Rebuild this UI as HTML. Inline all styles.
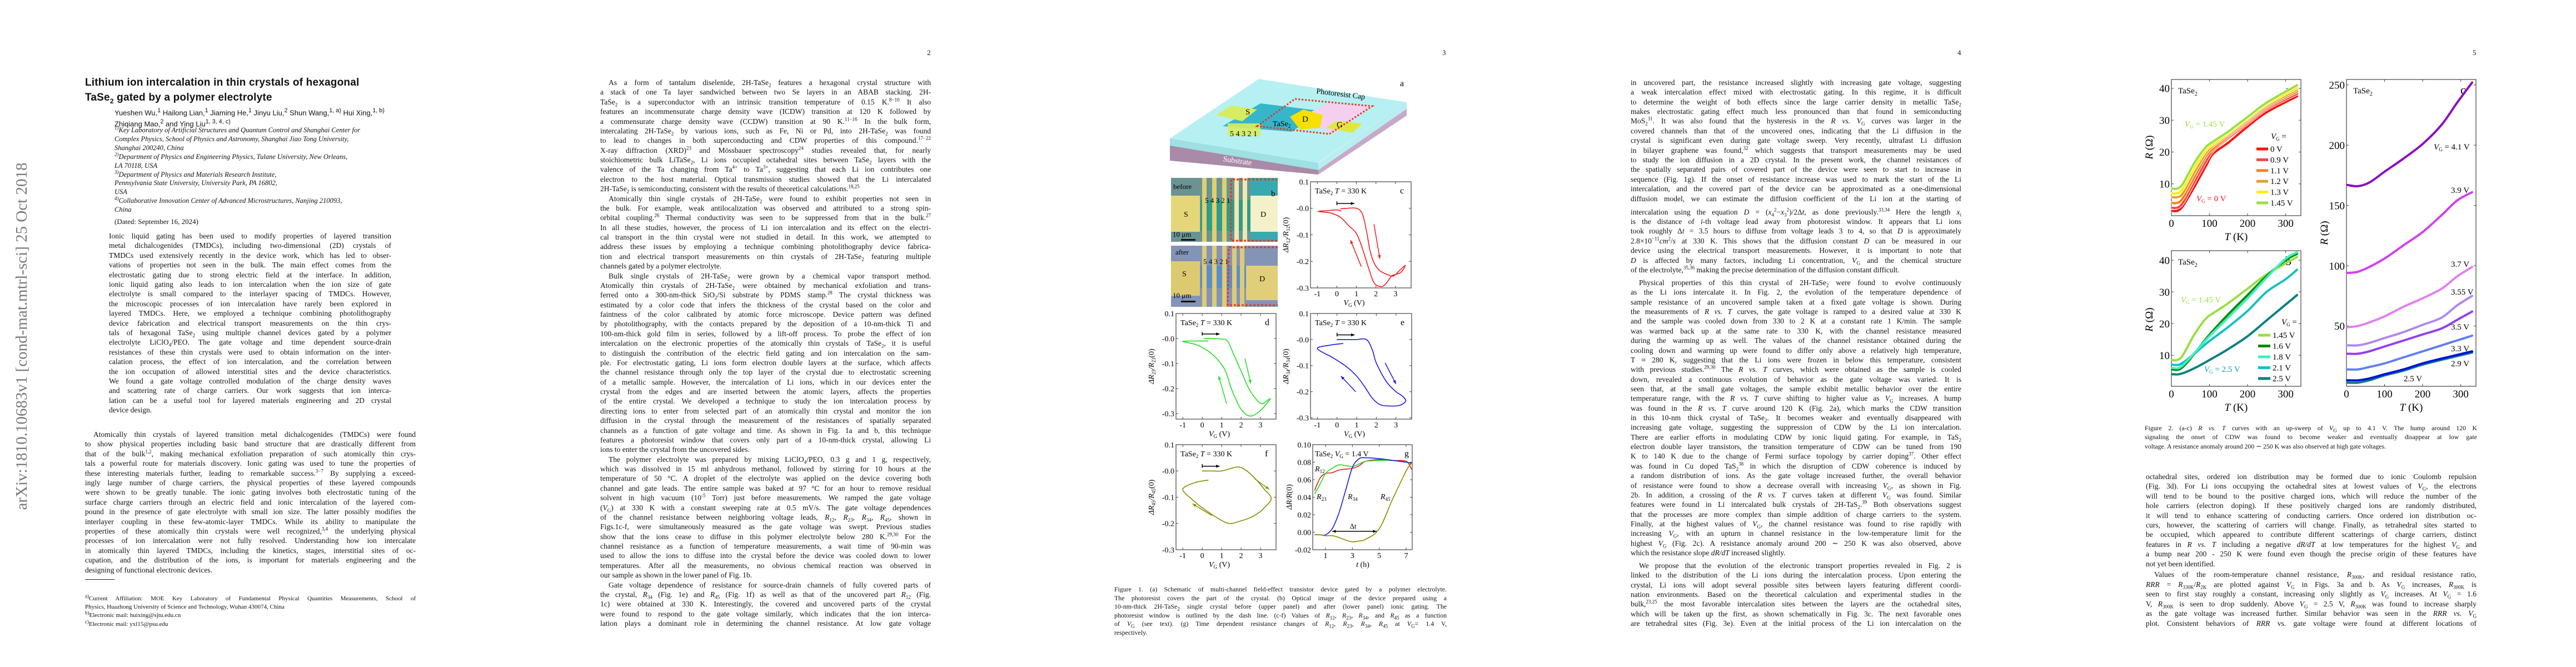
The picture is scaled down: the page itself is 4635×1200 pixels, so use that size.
<!DOCTYPE html>
<html><head><meta charset="utf-8">
<style>
html,body{margin:0;padding:0;background:#fff;}
body{width:4635px;height:1200px;position:relative;overflow:hidden;font-family:"Liberation Serif",serif;color:#111;}
.pg{position:absolute;top:0;width:927px;height:1200px;background:#fff;}
.ln{position:absolute;height:18px;line-height:18px;font-size:13.5px;text-align:justify;text-align-last:justify;overflow:hidden;white-space:normal;}
.ln.last{text-align-last:left;}
.ln sub,.ln sup{font-size:9px;line-height:0;}
.pn{position:absolute;top:87px;font-size:13px;}
#charts{position:absolute;left:0;top:0;}
</style></head>
<body>
<div class="pg" style="left:0"></div>
<div class="pg" style="left:927px"></div>
<div class="pg" style="left:1854px"></div>
<div class="pg" style="left:2781px"></div>
<div class="pg" style="left:3708px"></div>

<div class="pn" style="left:1668px">2</div>
<div class="pn" style="left:2595px">3</div>
<div class="pn" style="left:3522px">4</div>
<div class="pn" style="left:4449px">5</div>

<div style="position:absolute;left:153px;top:135px;font:bold 19px/27px 'Liberation Sans',sans-serif;letter-spacing:0.2px">Lithium ion intercalation in thin crystals of hexagonal<br>TaSe<sub style="font-size:12px">2</sub> gated by a polymer electrolyte</div>
<div style="position:absolute;left:206px;top:191px;font:13px/17px 'Liberation Sans',sans-serif;">Yueshen Wu,<sup>1</sup> Hailong Lian,<sup>1</sup> Jiaming He,<sup>1</sup> Jinyu Liu,<sup>2</sup> Shun Wang,<sup>1, a)</sup> Hui Xing,<sup>1, b)</sup><br>Zhiqiang Mao,<sup>2</sup> and Ying Liu<sup>1, 3, 4, c)</sup></div>
<div style="position:absolute;left:206px;top:391px;font-size:13px;">(Dated: September 16, 2024)</div>
<div style="position:absolute;left:153px;top:1042px;width:53px;height:1px;background:#222;"></div>

<svg id="charts" width="4635" height="1200" viewBox="0 0 4635 1200" xmlns="http://www.w3.org/2000/svg">
<text x="48" y="605" transform="rotate(-90 48 605)" text-anchor="middle" font-family="Liberation Serif, serif" font-size="29" fill="#7a7a7a">arXiv:1810.10683v1  [cond-mat.mtrl-sci]  25 Oct 2018</text>

<g>
<polygon points="2105,260 2105,289 2372,314 2372,304" fill="#a98aa8"/>
<polygon points="2372,304 2372,314 2531,208 2531,195" fill="#c8a8c8"/>
<polygon points="2105,249 2105,262 2372,306 2372,293" fill="#9fe0e2"/>
<polygon points="2372,293 2372,306 2531,196 2531,184" fill="#b8eef0"/>
<polygon points="2105,249 2265,142 2531,184 2371,293" fill="#b6f0f2"/>
<polygon points="2200,227 2268,186 2380,200 2324,237" fill="#35b6cc"/>
<polygon points="2330,215 2390,186 2469,191 2400,240" fill="#f4d0ee"/>
<polygon points="2188,207 2215,190 2262,197 2235,218" fill="#d8ec60"/>
<polygon points="2321,210 2345,197 2380,207 2375,230 2339,233" fill="#f5e000"/>
<polygon points="2386,230 2404,218 2451,222 2434,239" fill="#e0e840"/>
<polygon points="2209,222 2268,222 2268,245 2209,245" fill="#d8ec60" opacity="0.9"/>
<polygon points="2262,227 2330,178 2469,191 2392,241" fill="none" stroke="#e8361c" stroke-width="3" stroke-dasharray="3,3"/>
<text x="2241" y="206" font-size="15" font-family="Liberation Serif, serif">S</text>
<text x="2343" y="219" font-size="15" font-family="Liberation Serif, serif">D</text>
<text x="2405" y="229" font-size="15" font-family="Liberation Serif, serif">G</text>
<text x="2290" y="227" font-size="14" font-family="Liberation Serif, serif">TaSe<tspan font-size="9" dy="3">2</tspan></text>
<text x="2213" y="245" font-size="14" font-family="Liberation Serif, serif">5 4 3 2 1</text>
<text x="2368" y="168" font-size="14" font-family="Liberation Serif, serif" transform="rotate(7 2368 168)">Photoresist Cap</text>
<text x="2200" y="290" font-size="14" fill="#fff" font-family="Liberation Serif, serif" transform="rotate(8 2200 290)">Substrate</text>
<text x="2519" y="155" font-size="16" font-family="Liberation Serif, serif">a</text>
</g>

<g font-family="Liberation Serif, serif">
<rect x="2107" y="320" width="192" height="115" fill="#6a9492"/>
<rect x="2160" y="360" width="90" height="55" fill="#2f9c8c"/>
<rect x="2250" y="320" width="49" height="115" fill="#3aa8b0"/>
<rect x="2107" y="352" width="52" height="65" fill="#e6d67a"/>
<rect x="2250" y="352" width="49" height="65" fill="#f4f0c8"/>
<rect x="2163" y="320" width="8" height="115" fill="#e0d070"/><rect x="2181" y="320" width="8" height="115" fill="#e0d070"/><rect x="2199" y="320" width="8" height="115" fill="#e0d070"/><rect x="2221" y="320" width="8" height="115" fill="#f0e8b0"/><rect x="2236" y="320" width="8" height="115" fill="#f0e8b0"/>
<polyline points="2299,323 2215,323 2215,433 2299,433" fill="none" stroke="#e8361c" stroke-width="3" stroke-dasharray="4,3"/>
<text x="2111" y="340" font-size="13">before</text><text x="2287" y="353" font-size="15">b</text>
<text x="2168" y="365" font-size="13">5  4  3  2  1</text>
<text x="2130" y="390" font-size="14">S</text><text x="2268" y="390" font-size="14">D</text>
<text x="2110" y="426" font-size="13">10 μm</text><rect x="2125" y="430" width="26" height="3" fill="#111"/>
<rect x="2107" y="442" width="192" height="110" fill="#8494b6"/>
<rect x="2160" y="478" width="90" height="40" fill="#5a8ec8"/>
<rect x="2107" y="470" width="52" height="62" fill="#dcca70"/>
<rect x="2242" y="478" width="57" height="62" fill="#e0cf78"/>
<rect x="2163" y="442" width="8" height="110" fill="#dccb78"/><rect x="2181" y="442" width="8" height="110" fill="#dccb78"/><rect x="2199" y="442" width="8" height="110" fill="#dccb78"/><rect x="2217" y="442" width="8" height="110" fill="#dccb78"/><rect x="2231" y="442" width="8" height="110" fill="#dccb78"/>
<polyline points="2299,445 2211,445 2209,549 2299,549" fill="none" stroke="#e8361c" stroke-width="3" stroke-dasharray="4,3"/>
<text x="2115" y="458" font-size="13">after</text>
<text x="2165" y="475" font-size="13">5  4  3 2  1</text>
<text x="2127" y="497" font-size="14">S</text><text x="2266" y="506" font-size="14">D</text>
<text x="2110" y="536" font-size="13">10 μm</text><rect x="2125" y="541" width="26" height="3" fill="#111"/>
</g>
</svg>

<script>
const f1c_vg=[0.2,0.5,1.0,1.3,1.5,1.7,1.9,2.2,2.6,2.9,3.2,3.5,3.3,3.0,2.8,2.5,2.25,1.9,1.6,1.3,1.0,0.6,0.2,-0.3,-0.95,-0.5,0.0,0.2];
const f1c_dr=[-0.002,0.0,0.0,-0.02,-0.08,-0.16,-0.205,-0.235,-0.25,-0.255,-0.235,-0.215,-0.24,-0.25,-0.255,-0.285,-0.295,-0.28,-0.22,-0.15,-0.095,-0.065,-0.035,-0.018,-0.012,-0.009,-0.006,-0.01];
const f1d_vg=[0.1,0.5,1.0,1.3,1.6,2.0,2.4,2.8,3.1,3.5,3.1,2.8,2.5,2.2,1.9,1.5,1.2,0.8,0.3,-0.3,-1.0,-0.5,0.3];
const f1d_dr=[0.0,0.0,-0.002,-0.01,-0.06,-0.13,-0.2,-0.245,-0.26,-0.24,-0.28,-0.3,-0.31,-0.3,-0.27,-0.2,-0.13,-0.085,-0.05,-0.025,-0.012,-0.01,-0.01];
const f1e_vg=[0.0,0.5,1.0,1.5,1.8,2.0,2.5,3.0,3.3,3.5,3.2,2.7,2.2,1.8,1.4,1.0,0.5,-0.2,-1.0,-0.4,0.3];
const f1e_dr=[0.0,0.0,0.0,0.0,-0.04,-0.09,-0.16,-0.2,-0.215,-0.235,-0.252,-0.255,-0.25,-0.225,-0.18,-0.14,-0.105,-0.07,-0.035,-0.022,-0.015];
const f1f_vg=[0.0,0.5,1.0,1.5,1.9,2.3,2.8,3.2,3.55,3.2,2.8,2.4,2.0,1.4,0.8,0.0,-0.5,-1.0,-0.4,0.3];
const f1f_dr=[0.0,0.0,0.0,0.01,0.015,0.0,-0.035,-0.07,-0.105,-0.14,-0.165,-0.18,-0.19,-0.2,-0.18,-0.14,-0.11,-0.07,-0.045,-0.035];
const f1g_t=[0.2,0.6,1,1.5,2,2.5,3,3.5,4,5,6,7,7.4];
const f1g_r12=[0.048,0.062,0.067,0.068,0.071,0.072,0.073,0.076,0.081,0.083,0.082,0.081,0.072];
const f1g_r23=[0.044,0.055,0.067,0.073,0.077,0.076,0.075,0.078,0.081,0.082,0.082,0.080,0.078];
const f1g_r34=[-0.003,-0.003,-0.003,0.004,0.022,0.048,0.074,0.084,0.085,0.084,0.082,0.080,0.079];
const f1g_r45=[-0.003,-0.003,-0.004,-0.004,-0.006,-0.009,-0.011,-0.010,-0.008,0.004,0.038,0.070,0.079];
const f2a_T=[2,15,30,60,90,110,150,200,250,330];
const f2a_v0=[1.5,1.5,3,9,15.5,19.5,23,28,32.5,37.5];
const f2a_v09=[2.5,2.5,4,10.5,17,20.5,24.5,29,33.5,38.3];
const f2a_v11=[4,4,5.5,12,18.5,21,25,29.5,34,39];
const f2a_v12=[5.8,5.8,7,13.5,19.5,22,25.5,30,34.5,39.6];
const f2a_v13=[7,7,8.5,15,20.5,22.5,26,30.5,35,40.2];
const f2a_v145=[8.5,8.5,10,16.5,21.5,23.3,26.5,31,35.5,41];
const f2a_labels=["0 V","0.9 V","1.1 V","1.2 V","1.3 V","1.45 V"];
const f2b_T=[2,20,40,70,100,150,200,250,300,330];
const f2b_v16=[5.5,5.5,7.5,12,16.5,23,29,35,40,42];
const f2b_v18=[6,6,8,12,16,22,28,34.5,40.5,42.5];
const f2b_v21=[7,7,8.5,11.5,14.5,19,24,30,34,37];
const f2b_v25=[4,4,4.8,6.5,8.5,12,16,21,26,29];
const f2b_labels=["1.45 V","1.6 V","1.8 V","2.1 V","2.5 V"];
const f2c_T=[2,30,60,100,150,200,250,290,330];
const f2c_v41=[167,166,169,178,189,201,217,235,252];
const f2c_v39=[94,95,99,106,117,128,142,154,161];
const f2c_v37=[49,50,53,58,66,73,81,91,99];
const f2c_v355=[34,34,36,40,45,51,57,67,75];
const f2c_v35=[27,27,29,33,38,43,48,55,62];
const f2c_v33=[14,14,16,19,24,29,34,38,42];
const f2c_v29=[5,5,6.5,10,14,19,23,26,29];
const f2c_v25=[3,3,5,9,13,18,22,25,28];
const f2c_labels=["V_G = 4.1 V","3.9 V","3.7 V","3.55 V","3.5 V","3.3 V","2.9 V","2.5 V"];
const f1_xticks=[-1,0,1,2,3];
const f1_yticks=[0.1,0,-0.1,-0.2,-0.3];
const f1_yticklabels=["0.1","-0.0","-0.1","-0.2","-0.3"];
const f1g_xticks=[1,3,5,7];
const f1g_yticks=[0.10,0.08,0.06,0.04,0.02,0.00,-0.02];
const f1g_yticklabels=["0.10","0.08","0.06","0.04","0.02","0.00","-0.02"];
const f2_xticks=[0,100,200,300];
const f2ab_yticks=[10,20,30,40];
const f2c_yticks=[50,100,150,200,250];

const NS="http://www.w3.org/2000/svg";
const SVG=document.getElementById('charts');
function mk(tag,attrs,parent){const e=document.createElementNS(NS,tag);for(const k in attrs)e.setAttribute(k,attrs[k]);(parent||SVG).appendChild(e);return e;}
function lin(d0,d1,r0,r1){return v=>r0+(v-d0)/(d1-d0)*(r1-r0);}
function smooth(p){let d="M"+p[0][0].toFixed(1)+","+p[0][1].toFixed(1);for(let i=0;i<p.length-1;i++){const p0=p[i-1]||p[i],p1=p[i],p2=p[i+1],p3=p[i+2]||p2;const c1=[p1[0]+(p2[0]-p0[0])/6,p1[1]+(p2[1]-p0[1])/6],c2=[p2[0]-(p3[0]-p1[0])/6,p2[1]-(p3[1]-p1[1])/6];d+=" C"+c1[0].toFixed(1)+","+c1[1].toFixed(1)+" "+c2[0].toFixed(1)+","+c2[1].toFixed(1)+" "+p2[0].toFixed(1)+","+p2[1].toFixed(1);}return d;}

function panel(name,box,xd,yd,xt,xtl,yt,ytl,fs){
  const g=mk('g',{'font-family':'Liberation Serif, serif'});
  
  
  const sx=lin(xd[0],xd[1],box.x,box.x+box.w), sy=lin(yd[0],yd[1],box.y+box.h,box.y);
  const fr=mk('rect',{x:box.x,y:box.y,width:box.w,height:box.h,fill:'none',stroke:'#444','stroke-width':1.2},g);
  
  
  xt.forEach((v,i)=>{const x=sx(v);
    mk('line',{x1:x,x2:x,y1:box.y+box.h,y2:box.y+box.h-4,stroke:'#444'},g);
    mk('line',{x1:x,x2:x,y1:box.y,y2:box.y+4,stroke:'#444'},g);
    const t=mk('text',{x:x,y:box.y+box.h+fs+1,'text-anchor':'middle','font-size':fs},g);t.textContent=xtl[i];
    
    });
  yt.forEach((v,i)=>{const y=sy(v);
    mk('line',{x1:box.x,x2:box.x+4,y1:y,y2:y,stroke:'#444'},g);
    mk('line',{x1:box.x+box.w,x2:box.x+box.w-4,y1:y,y2:y,stroke:'#444'},g);
    const t=mk('text',{x:box.x-3,y:y+fs*0.35,'text-anchor':'end','font-size':fs},g);t.textContent=ytl[i];
    
    });
  return {g,sx,sy,box};
}
function series(p,xs,ys,color,w,name){
  const pts=xs.map((x,i)=>[p.sx(x),p.sy(ys[i])]);
  const e=mk('path',{d:smooth(pts),fill:'none',stroke:color,'stroke-width':w,'stroke-linejoin':'round','stroke-linecap':'round'},p.g);
  
  
  return e;
}
function txt(p,x,y,html,fs,name,extra){
  const t=mk('text',Object.assign({x:x,y:y,'font-size':fs},extra||{}),p.g);t.innerHTML=html;
  
  
  return t;
}
function arrow(p,x1,y1,x2,y2,color,name){
  const a=mk('line',{x1:x1,y1:y1,x2:x2,y2:y2,stroke:color,'stroke-width':1.5},p.g);
  
  
  const ang=Math.atan2(y2-y1,x2-x1),L=7;
  mk('polygon',{points:`${x2},${y2} ${x2-L*Math.cos(ang-0.4)},${y2-L*Math.sin(ang-0.4)} ${x2-L*Math.cos(ang+0.4)},${y2-L*Math.sin(ang+0.4)}`,fill:color},p.g);
}
const T330='TaSe<tspan font-size="9" dy="3">2</tspan><tspan dy="-3">  </tspan><tspan font-style="italic">T</tspan> = 330 K';
function f1panel(name,box,yd,xdata,ydata,color,letter,ylab){
  const p=panel(name,box,[-1.35,3.8],yd,f1_xticks,f1_xticks.map(String),f1_yticks,f1_yticklabels,14);
  series(p,xdata,ydata,color,1.6,name+'-curve');
  txt(p,box.x+8,box.y+21,T330,14,name+'-annotation');
  txt(p,box.x+box.w-20,box.y+21,letter,16,name+'-panel-letter');
  txt(p,0,0,'<tspan font-style="italic">ΔR</tspan><tspan font-size="9" dy="3">'+ylab+'</tspan><tspan dy="-3" font-style="italic">/R</tspan><tspan font-size="9" dy="3">'+ylab+'</tspan><tspan dy="-3">(0)</tspan>',14,name+'-y-axis-title',{'text-anchor':'middle',transform:`translate(${box.x-40},${box.y+box.h/2}) rotate(-90)`});
  txt(p,box.x+box.w/2-12,box.y+box.h+31,'<tspan font-style="italic">V</tspan><tspan font-size="9" dy="3">G</tspan><tspan dy="-3"> (V)</tspan>',14,name+'-x-axis-title',{'text-anchor':'middle'});
  arrow(p,p.sx(0),p.sy(0.018),p.sx(0.9),p.sy(0.018),'#000',name+'-sweep-start-arrow');
  mk('line',{x1:p.sx(0),x2:p.sx(0),y1:p.sy(0.012),y2:p.sy(0.026),stroke:'#000','stroke-width':1.5},p.g);
  return p;
}
const pc=f1panel('figure1c-r12-vs-vg',{x:2358,y:327,w:181,h:191},[-0.3,0.1],f1c_vg,f1c_dr,'#ee1c1c','c','12');
arrow(pc,pc.sx(1.9),pc.sy(-0.06),pc.sx(2.2),pc.sy(-0.19),'#ee1c1c','figure1c-down-arrow');
arrow(pc,pc.sx(1.25),pc.sy(-0.22),pc.sx(0.7),pc.sy(-0.12),'#ee1c1c','figure1c-up-arrow');
const pd=f1panel('figure1d-r23-vs-vg',{x:2116,y:564,w:180,h:190},[-0.322,0.1],f1d_vg,f1d_dr,'#22dd22','d','23');
arrow(pd,pd.sx(2.2),pd.sy(-0.08),pd.sx(2.5),pd.sy(-0.18),'#22dd22','figure1d-down-arrow');
arrow(pd,pd.sx(1.25),pd.sy(-0.26),pd.sx(0.85),pd.sy(-0.15),'#22dd22','figure1d-up-arrow');
const pe=f1panel('figure1e-r34-vs-vg',{x:2358,y:564,w:182,h:190},[-0.305,0.1],f1e_vg,f1e_dr,'#1a1ae0','e','34');
arrow(pe,pe.sx(2.45),pe.sy(-0.09),pe.sx(3.0),pe.sy(-0.17),'#1a1ae0','figure1e-down-arrow');
arrow(pe,pe.sx(0.95),pe.sy(-0.2),pe.sx(0.2),pe.sy(-0.14),'#1a1ae0','figure1e-up-arrow');
const pf=f1panel('figure1f-r45-vs-vg',{x:2116,y:800,w:180,h:189},[-0.3,0.1],f1f_vg,f1f_dr,'#8a8a00','f','45');
arrow(pf,pf.sx(2.7),pf.sy(-0.03),pf.sx(3.45),pf.sy(-0.07),'#8a8a00','figure1f-down-arrow');
arrow(pf,pf.sx(0.5),pf.sy(-0.17),pf.sx(-0.5),pf.sy(-0.125),'#8a8a00','figure1f-left-arrow');
const pg=panel('figure1g-dr-vs-time',{x:2362,y:800,w:179,h:189},[0.05,7.45],[-0.02,0.10],f1g_xticks,f1g_xticks.map(String),f1g_yticks,f1g_yticklabels,14);
series(pg,f1g_t,f1g_r12,'#ee1c1c',1.6,'figure1g-r12-line');
series(pg,f1g_t,f1g_r23,'#22dd22',1.6,'figure1g-r23-line');
series(pg,f1g_t,f1g_r34,'#1a1ae0',1.6,'figure1g-r34-line');
series(pg,f1g_t,f1g_r45,'#8a8a00',1.6,'figure1g-r45-line');
txt(pg,2366,821,'TaSe<tspan font-size="9" dy="3">2</tspan><tspan dy="-3"> </tspan><tspan font-style="italic">V</tspan><tspan font-size="9" dy="3">G</tspan><tspan dy="-3"> = 1.4 V</tspan>',14,'figure1g-annotation');
txt(pg,2527,821,'g',16,'figure1g-panel-letter');
txt(pg,2366,848,'<tspan font-style="italic">R</tspan><tspan font-size="9" dy="3">12</tspan>',14,'figure1g-label-r12');
txt(pg,2369,898,'<tspan font-style="italic">R</tspan><tspan font-size="9" dy="3">23</tspan>',14,'figure1g-label-r23');
txt(pg,2425,898,'<tspan font-style="italic">R</tspan><tspan font-size="9" dy="3">34</tspan>',14,'figure1g-label-r34');
txt(pg,2484,898,'<tspan font-style="italic">R</tspan><tspan font-size="9" dy="3">45</tspan>',14,'figure1g-label-r45');
arrow(pg,pg.sx(3),pg.sy(0.001),pg.sx(1.5),pg.sy(0.001),'#000','figure1g-delta-t-arrow-left');
arrow(pg,pg.sx(3),pg.sy(0.001),pg.sx(4.8),pg.sy(0.001),'#000','figure1g-delta-t-arrow-right');
txt(pg,pg.sx(3.05),pg.sy(0.004),'Δt',13,'figure1g-delta-t-label',{'text-anchor':'middle'});
txt(pg,0,0,'<tspan font-style="italic">ΔR/R</tspan>(0)',14,'figure1g-y-axis-title',{'text-anchor':'middle',transform:'translate(2324,894) rotate(-90)'});
txt(pg,2452,1020,'<tspan font-style="italic">t</tspan> (h)',14,'figure1g-x-axis-title',{'text-anchor':'middle'});

function f2common(p,name,letter,ycenter){
  txt(p,p.box.x+12,p.box.y+25,'TaSe<tspan font-size="10" dy="4">2</tspan>',15,name+'-material-label');
  txt(p,p.box.x+p.box.w-28,p.box.y+26,letter,22,name+'-panel-letter');
  txt(p,0,0,'<tspan font-style="italic">R</tspan> (Ω)',19,name+'-y-axis-title',{'text-anchor':'middle',transform:`translate(${p.box.x-34},${ycenter}) rotate(-90)`});
  txt(p,p.box.x+p.box.w/2,p.box.y+p.box.h+44,'<tspan font-style="italic">T</tspan> (K)',19,name+'-x-axis-title',{'text-anchor':'middle'});
}
const pa=panel('figure2a-r-vs-t',{x:3907,y:143,w:233,h:245},[0,340],[0,42.8],f2_xticks,f2_xticks.map(String),f2ab_yticks,f2ab_yticks.map(String),19);
f2common(pa,'figure2a','a',265);
const aCols=['#ff1010','#f04848','#ff8010','#e0a030','#ffee00','#98e040'];
const aSeries=[f2a_v0,f2a_v09,f2a_v11,f2a_v12,f2a_v13,f2a_v145];
aSeries.forEach((s,i)=>{series(pa,f2a_T,s,'#ffffff',6,'figure2a-outline');series(pa,f2a_T,s,aCols[i],4,'figure2a-line-'+i);});
txt(pa,4086,250,'<tspan font-style="italic">V</tspan><tspan font-size="9" dy="3">G</tspan><tspan dy="-3"> =</tspan>',15,'figure2a-legend-title');
f2a_labels.forEach((l,i)=>{const y=268+i*19.4;
  const r=mk('rect',{x:4060,y:y-2.5,width:21,height:5,fill:aCols[i]},pa.g);
  
  
  txt(pa,4085,y+5,l,15,'figure2a-legend-entry');});
txt(pa,3931,228,'<tspan font-style="italic">V</tspan><tspan font-size="9" dy="3">G</tspan><tspan dy="-3"> = 1.45 V</tspan>',15,'figure2a-label-145',{fill:'#98e040'});
txt(pa,3952,362,'<tspan font-style="italic">V</tspan><tspan font-size="9" dy="3">G</tspan><tspan dy="-3"> = 0 V</tspan>',15,'figure2a-label-0',{fill:'#ff1010'});

const pb=panel('figure2b-r-vs-t',{x:3907,y:451,w:233,h:244},[0,340],[0.2,43],f2_xticks,f2_xticks.map(String),f2ab_yticks,f2ab_yticks.map(String),19);
f2common(pb,'figure2b','b',575);
const bCols=['#98e040','#0a8a0a','#40f0c0','#10c0c8','#088080'];
series(pb,f2a_T,f2a_v145,bCols[0],4,'figure2b-line-145');
series(pb,f2b_T,f2b_v25,bCols[4],4,'figure2b-line-25');
series(pb,f2b_T,f2b_v21,bCols[3],4,'figure2b-line-21');
series(pb,f2b_T,f2b_v16,bCols[1],4,'figure2b-line-16');
series(pb,f2b_T,f2b_v18,bCols[2],4,'figure2b-line-18');
txt(pb,4105,584,'<tspan font-style="italic">V</tspan><tspan font-size="9" dy="3">G</tspan><tspan dy="-3"> =</tspan>',15,'figure2b-legend-title');
f2b_labels.forEach((l,i)=>{const y=603+i*19.5;
  const r=mk('rect',{x:4063,y:y-2.5,width:22,height:5,fill:bCols[i]},pb.g);
  
  
  txt(pb,4089,y+5,l,15,'figure2b-legend-entry');});
txt(pb,3924,544,'<tspan font-style="italic">V</tspan><tspan font-size="9" dy="3">G</tspan><tspan dy="-3"> = 1.45 V</tspan>',15,'figure2b-label-145',{fill:'#98e040'});
txt(pb,3966,669,'<tspan font-style="italic">V</tspan><tspan font-size="9" dy="3">G</tspan><tspan dy="-3"> = 2.5 V</tspan>',15,'figure2b-label-25',{fill:'#10a0b0'});

const pcc=panel('figure2c-r-vs-t',{x:4222,y:143,w:233,h:552},[0,340],[0,254.5],f2_xticks,f2_xticks.map(String),f2c_yticks,f2c_yticks.map(String),19);
f2common(pcc,'figure2c','c',419);
const cCols=['#8a10c0','#d040f0','#e080f0','#b088f0','#9040f0','#6080f0','#0010e0','#108080'];
const cSeries=[f2c_v41,f2c_v39,f2c_v37,f2c_v355,f2c_v35,f2c_v33,f2c_v25,f2c_v29];
const cColOrder=[0,1,2,3,4,5,7,6];
cSeries.forEach((s,i)=>series(pcc,f2c_T,s,cCols[cColOrder[i]],4,'figure2c-line-'+i));
const cLabelPos=[[4379,269],[4410,347],[4410,480],[4410,530],[4410,593],[4410,632],[4410,659],[4325,686]];
f2c_labels.forEach((l,i)=>{const h=l.startsWith('V_G')?'<tspan font-style="italic">V</tspan><tspan font-size="9" dy="3">G</tspan><tspan dy="-3"> = 4.1 V</tspan>':l;
  txt(pcc,cLabelPos[i][0],cLabelPos[i][1],h,15,'figure2c-curve-label');});

function lines(pageX,x,w,y0,step,arr,fs,name,opts){
  opts=opts||{};
  arr.forEach((s,i)=>{
    let ind=0,last=false;
    if(s[0]==='^'){ind=15;s=s.slice(1);}
    if(s.endsWith('$')){last=true;s=s.slice(0,-1);}
    const y=(opts.ys?opts.ys[i]:y0+i*step);
    const d=document.createElement('div');
    d.className='ln'+((last||opts.noJustify)?' last':'');
    d.style.left=(pageX+x+ind)+'px';d.style.top=(y-9)+'px';d.style.width=(w-ind)+'px';
    d.style.fontSize=fs+'px';
    if(opts.italic)d.style.fontStyle='italic';
    d.innerHTML=s;
    
    
    document.body.appendChild(d);
  });
}
const abstractLines=["Ionic liquid gating has been used to modify properties of layered transition","metal dichalcogenides (TMDCs), including two-dimensional (2D) crystals of","TMDCs used extensively recently in the device work, which has led to obser-","vations of properties not seen in the bulk. The main effect comes from the","electrostatic gating due to strong electric field at the interface. In addition,","ionic liquid gating also leads to ion intercalation when the ion size of gate","electrolyte is small compared to the interlayer spacing of TMDCs. However,","the microscopic processes of ion intercalation have rarely been explored in","layered TMDCs. Here, we employed a technique combining photolithography","device fabrication and electrical transport measurements on the thin crys-","tals of hexagonal TaSe<sub>2</sub> using multiple channel devices gated by a polymer","electrolyte LiClO<sub>4</sub>/PEO. The gate voltage and time dependent source-drain","resistances of these thin crystals were used to obtain information on the inter-","calation process, the effect of ion intercalation, and the correlation between","the ion occupation of allowed interstitial sites and the device characteristics.","We found a gate voltage controlled modulation of the charge density waves","and scattering rate of charge carriers. Our work suggests that ion interca-","lation can be a useful tool for layered materials engineering and 2D crystal","device design.$"];
lines(0,196,508,425,17.4,abstractLines,13.5,'abstract-line');
const affil=["<sup>1)</sup>Key Laboratory of Artificial Structures and Quantum Control and Shanghai Center for","Complex Physics, School of Physics and Astronomy, Shanghai Jiao Tong University,","Shanghai 200240, China","<sup>2)</sup>Department of Physics and Engineering Physics, Tulane University, New Orleans,","LA 70118, USA","<sup>3)</sup>Department of Physics and Materials Research Institute,","Pennsylvania State University, University Park, PA 16802,","USA","<sup>4)</sup>Collaborative Innovation Center of Advanced Microstructures, Nanjing 210093,","China"];
lines(0,206,545,234,15.9,affil,12.5,'affiliation-line',{italic:true,noJustify:true});
const p1body=["^Atomically thin crystals of layered transition metal dichalcogenides (TMDCs) were found","to show physical properties including basic band structure that are drastically different from","that of the bulk<sup>1,2</sup>, making mechanical exfoliation preparation of such atomically thin crys-","tals a powerful route for materials discovery. Ionic gating was used to tune the properties of","these interesting materials further, leading to remarkable success.<sup>3−7</sup> By supplying a exceed-","ingly large number of charge carriers, the physical properties of these layered compounds","were shown to be greatly tunable. The ionic gating involves both electrostatic tuning of the","surface charge carriers through an electric field and ionic intercalation of the layered com-","pound in the presence of gate electrolyte with small ion size. The latter possibly modifies the","interlayer coupling in these few-atomic-layer TMDCs. While its ability to manipulate the","properties of these atomically thin crystals were well recognized,<sup>3,4</sup> the underlying physical","processes of ion intercalation were not fully resolved. Understanding how ion intercalate","in atomically thin layered TMDCs, including the kinetics, stages, interstitial sites of oc-","cupation, and the distribution of the ions, is important for materials engineering and the","designing of functional electronic devices.$"];
lines(0,153,595,782,17.4,p1body,13.5,'page1-body-line');
const foot=["<sup>a)</sup>Current Affiliation: MOE Key Laboratory of Fundamental Physical Quantities Measurements, School of","Physics, Huazhong University of Science and Technology, Wuhan 430074, China$","<sup>b)</sup>Electronic mail: huixing@sjtu.edu.cn$","<sup>c)</sup>Electronic mail: yxl15@psu.edu$"];
lines(0,153,595,0,0,foot,11,'footnote-line',{ys:[1077,1092,1107,1123]});
const p2=["^As a form of tantalum diselenide, 2H-TaSe<sub>2</sub> features a hexagonal crystal structure with","a stack of one Ta layer sandwiched between two Se layers in an ABAB stacking. 2H-","TaSe<sub>2</sub> is a superconductor with an intrinsic transition temperature of 0.15 K.<sup>8−10</sup> It also","features an incommensurate charge density wave (ICDW) transition at 120 K followed by","a commensurate charge density wave (CCDW) transition at 90 K.<sup>11−16</sup> In the bulk form,","intercalating 2H-TaSe<sub>2</sub> by various ions, such as Fe, Ni or Pd, into 2H-TaSe<sub>2</sub> was found","to lead to changes in both superconducting and CDW properties of this compound.<sup>17−22</sup>","X-ray diffraction (XRD)<sup>23</sup> and Mössbauer spectroscopy<sup>24</sup> studies revealed that, for nearly","stoichiometric bulk LiTaSe<sub>2</sub>, Li ions occupied octahedral sites between TaSe<sub>2</sub> layers with the","valence of the Ta changing from Ta<sup>4+</sup> to Ta<sup>3+</sup>, suggesting that each Li ion contributes one","electron to the host material. Optical transmission studies showed that the Li intercalated","2H-TaSe<sub>2</sub> is semiconducting, consistent with the results of theoretical calculations.<sup>18,25</sup>$","^Atomically thin single crystals of 2H-TaSe<sub>2</sub> were found to exhibit properties not seen in","the bulk. For example, weak antilocalization was observed and attributed to a strong spin-","orbital coupling.<sup>26</sup> Thermal conductivity was seen to be suppressed from that in the bulk.<sup>27</sup>","In all these studies, however, the process of Li ion intercalation and its effect on the electri-","cal transport in the thin crystal were not studied in detail. In this work, we attempted to","address these issues by employing a technique combining photolithography device fabrica-","tion and electrical transport measurements on thin crystals of 2H-TaSe<sub>2</sub> featuring multiple","channels gated by a polymer electrolyte.$","^Bulk single crystals of 2H-TaSe<sub>2</sub> were grown by a chemical vapor transport method.","Atomically thin crystals of 2H-TaSe<sub>2</sub> were obtained by mechanical exfoliation and trans-","ferred onto a 300-nm-thick SiO<sub>2</sub>/Si substrate by PDMS stamp.<sup>28</sup> The crystal thickness was","estimated by a color code that infers the thickness of the crystal based on the color and","faintness of the color calibrated by atomic force microscope. Device pattern was defined","by photolithography, with the contacts prepared by the deposition of a 10-nm-thick Ti and","100-nm-thick gold film in series, followed by a lift-off process. To probe the effect of ion","intercalation on the electronic properties of the atomically thin crystals of TaSe<sub>2</sub>, it is useful","to distinguish the contribution of the electric field gating and ion intercalation on the sam-","ple. For electrostatic gating, Li ions form electron double layers at the surface, which affects","the channel resistance through only the top layer of the crystal due to electrostatic screening","of a metallic sample. However, the intercalation of Li ions, which in our devices enter the","crystal from the edges and are inserted between the atomic layers, affects the properties","of the entire crystal. We developed a technique to study the ion intercalation process by","directing ions to enter from selected part of an atomically thin crystal and monitor the ion","diffusion in the crystal through the measurement of the resistances of spatially separated","channels as a function of gate voltage and time. As shown in Fig. 1a and b, this technique","features a photoresist window that covers only part of a 10-nm-thick crystal, allowing Li","ions to enter the crystal from the uncovered sides.$","^The polymer electrolyte was prepared by mixing LiClO<sub>4</sub>/PEO, 0.3 g and 1 g, respectively,","which was dissolved in 15 ml anhydrous methanol, followed by stirring for 10 hours at the","temperature of 50 °C. A droplet of the electrolyte was applied on the device covering both","channel and gate leads. The entire sample was baked at 97 °C for an hour to remove residual","solvent in high vacuum (10<sup>-5</sup> Torr) just before measurements. We ramped the gate voltage","(<i>V</i><sub>G</sub>) at 330 K with a constant sweeping rate at 0.5 mV/s. The gate voltage dependences","of the channel resistance between neighboring voltage leads, <i>R</i><sub>12</sub>, <i>R</i><sub>23</sub>, <i>R</i><sub>34</sub>, <i>R</i><sub>45</sub>, shown in","Figs.1c-f, were simultaneously measured as the gate voltage was swept. Previous studies","show that the ions cease to diffuse in this polymer electrolyte below 280 K.<sup>29,30</sup> For the","channel resistance as a function of temperature measurements, a wait time of 90-min was","used to allow the ions to diffuse into the crystal before the device was cooled down to lower","temperatures. After all the measurements, no obvious chemical reaction was observed in","our sample as shown in the lower panel of Fig. 1b.$","^Gate voltage dependence of resistance for source-drain channels of fully covered parts of","the crystal, <i>R</i><sub>34</sub> (Fig. 1e) and <i>R</i><sub>45</sub> (Fig. 1f) as well as that of the uncovered part <i>R</i><sub>12</sub> (Fig.","1c) were obtained at 330 K. Interestingly, the covered and uncovered parts of the crystal","were found to respond to the gate voltage similarly, which indicates that the ion interca-","lation plays a dominant role in determining the channel resistance. At low gate voltage"];
lines(927,153,595,149,17.375,p2,13.5,'page2-body-line');
const cap1=["Figure 1. (a) Schematic of multi-channel field-effect transistor device gated by a polymer electrolyte.","The photoresist covers the part of the crystal. (b) Optical image of the device prepared using a","10-nm-thick 2H-TaSe<sub>2</sub> single crystal before (upper panel) and after (lower panel) ionic gating. The","photoresist window is outlined by the dash line. (c-f) Values of <i>R</i><sub>12</sub>, <i>R</i><sub>23</sub>, <i>R</i><sub>34</sub>, and <i>R</i><sub>45</sub> as a function","of <i>V</i><sub>G</sub> (see text). (g) Time dependent resistance changes of <i>R</i><sub>12</sub>, <i>R</i><sub>23</sub>, <i>R</i><sub>34</sub>, <i>R</i><sub>45</sub> at <i>V</i><sub>G</sub>= 1.4 V,","respectively.$"];
lines(1854,151,598,1060,15.6,cap1,11.8,'figure1-caption-line');
const p4a=["in uncovered part, the resistance increased slightly with increasing gate voltage, suggesting","a weak intercalation effect mixed with electrostatic gating. In this regime, it is difficult","to determine the weight of both effects since the large carrier density in metallic TaSe<sub>2</sub>","makes electrostatic gating effect much less pronounced than that found in semiconducting","MoS<sub>2</sub><sup>31</sup>. It was also found that the hysteresis in the <i>R vs. V</i><sub>G</sub> curves was larger in the","covered channels than that of the uncovered ones, indicating that the Li diffusion in the","crystal is significant even during gate voltage sweep. Very recently, ultrafast Li diffusion","in bilayer graphene was found,<sup>32</sup> which suggests that transport measurements may be used","to study the ion diffusion in a 2D crystal. In the present work, the channel resistances of","the spatially separated pairs of covered part of the device were seen to start to increase in","sequence (Fig. 1g). If the onset of resistance increase was used to mark the start of the Li","intercalation, and the covered part of the device can be approximated as a one-dimensional","diffusion model, we can estimate the diffusion coefficient of the Li ion at the starting of","intercalation using the equation <i>D</i> = (<i>x</i><sub>4</sub><sup>2</sup>−<i>x</i><sub>3</sub><sup>2</sup>)/2Δ<i>t</i>, as done previously.<sup>33,34</sup> Here the length <i>x<sub>i</sub></i>","is the distance of <i>i</i>-th voltage lead away from photoresist window. It appears that Li ions","took roughly Δ<i>t</i> = 3.5 hours to diffuse from voltage leads 3 to 4, so that <i>D</i> is approximately","2.8×10<sup>−11</sup><i>cm</i><sup>2</sup>/<i>s</i> at 330 K. This shows that the diffusion constant <i>D</i> can be measured in our","device using the electrical transport measurements. However, it is important to note that","<i>D</i> is affected by many factors, including Li concentration, <i>V</i><sub>G</sub> and the chemical structure","of the electrolyte,<sup>35,36</sup> making the precise determination of the diffusion constant difficult.$"];
const p4ys=[149,166,184,201,218,236,253,271,288,305,323,340,358,382,399,416,434,451,469,486];
lines(2781,153,595,0,0,p4a,13.5,'page4-body-line',{ys:p4ys});
const p4b=["^Physical properties of this thin crystal of 2H-TaSe<sub>2</sub> were found to evolve continuously","as the Li ions intercalate it. In Fig. 2, the evolution of the temperature dependence of","sample resistance of an uncovered sample taken at a fixed gate voltage is shown. During","the measurements of <i>R vs. T</i> curves, the gate voltage is ramped to a desired value at 330 K","and the sample was cooled down from 330 to 2 K at a constant rate 1 K/min. The sample","was warmed back up at the same rate to 330 K, with the channel resistance measured","during the warming up as well. The values of the channel resistance obtained during the","cooling down and warming up were found to differ only above a relatively high temperature,","T ≈ 280 K, suggesting that the Li ions were frozen in below this temperature, consistent","with previous studies.<sup>29,30</sup> The <i>R vs. T</i> curves, which were obtained as the sample is cooled","down, revealed a continuous evolution of behavior as the gate voltage was varied. It is","seen that, at the small gate voltages, the sample exhibit metallic behavior over the entire","temperature range, with the <i>R vs. T</i> curve shifting to higher value as <i>V</i><sub>G</sub> increases. A hump","was found in the <i>R vs. T</i> curve around 120 K (Fig. 2a), which marks the CDW transition","in this 10-nm thick crystal of TaSe<sub>2</sub>. It becomes weaker and eventually disappeared with","increasing gate voltage, suggesting the suppression of CDW by the Li ion intercalation.","There are earlier efforts in modulating CDW by ionic liquid gating. For example, in TaS<sub>2</sub>","electron double layer transistors, the transition temperature of CDW can be tuned from 190","K to 140 K due to the change of Fermi surface topology by carrier doping<sup>37</sup>. Other effect","was found in Cu doped TaS<sub>2</sub><sup>38</sup> in which the disruption of CDW coherence is induced by","a random distribution of ions. As the gate voltage increased further, the overall behavior","of resistance were found to show a decrease overall with increasing <i>V</i><sub>G</sub>, as shown in Fig.","2b. In addition, a crossing of the <i>R vs. T</i> curves taken at different <i>V</i><sub>G</sub> was found. Similar","features were found in Li intercalated bulk crystals of 2H-TaS<sub>2</sub>.<sup>39</sup> Both observations suggest","that the processes are more complex than simple addition of charge carriers to the system.","Finally, at the highest values of <i>V</i><sub>G</sub>, the channel resistance was found to rise rapidly with","increasing <i>V</i><sub>G</sub>, with an upturn in channel resistance in the low-temperature limit for the","highest <i>V</i><sub>G</sub> (Fig. 2c). A resistance anomaly around 200 ∼ 250 K was also observed, above","which the resistance slope <i>dR/dT</i> increased slightly.$"];
lines(2781,153,595,509,17.36,p4b,13.5,'page4-body-line');
const p4c=["^We propose that the evolution of the electronic transport properties revealed in Fig. 2 is","linked to the distribution of the Li ions during the intercalation process. Upon entering the","crystal, Li ions will adopt several possible sites between layers featuring different coordi-","nation environments. Based on the theoretical calculation and experimental studies in the","bulk,<sup>23,25</sup> the most favorable intercalation sites between the layers are the octahedral sites,","which will be taken up the first, as shown schematically in Fig. 3c. The next favorable ones","are tetrahedral sites (Fig. 3e). Even at the initial process of the Li ion intercalation on the"];
lines(2781,153,595,1018,17.33,p4c,13.5,'page4-body-line');
const cap2=["Figure 2. (a-c) <i>R vs. T</i> curves with an up-sweep of <i>V</i><sub>G</sub> up to 4.1 V. The hump around 120 K","signaling the onset of CDW was found to become weaker and eventually disappear at low gate","voltage. A resistance anomaly around 200 ∼ 250 K was also observed at high gate voltages.$"];
lines(3708,151,598,770,16.3,cap2,11.8,'figure2-caption-line');
const p5=["octahedral sites, ordered ion distribution may be formed due to ionic Coulomb repulsion","(Fig. 3d). For Li ions occupying the octahedral sites at lowest values of <i>V</i><sub>G</sub>, the electrons","will tend to be bound to the positive charged ions, which will reduce the number of the","hole carriers (electron doping). If these positively charged ions are randomly distributed,","it will tend to enhance scattering of conducting carriers. Once ordered ion distribution oc-","curs, however, the scattering of carriers will change. Finally, as tetrahedral sites started to","be occupied, which appeared to contribute different scatterings of charge carriers, distinct","features in <i>R vs. T</i> including a negative <i>dR/dT</i> at low temperatures for the highest <i>V</i><sub>G</sub> and","a bump near 200 - 250 K were found even though the precise origin of these features have","not yet been identified.$","^Values of the room-temperature channel resistance, <i>R</i><sub>300K</sub>, and residual resistance ratio,","<i>RRR</i> = <i>R</i><sub>330K</sub>/<i>R</i><sub>2K</sub> are plotted against <i>V</i><sub>G</sub> in Figs. 3a and b. As <i>V</i><sub>G</sub> increases, <i>R</i><sub>300K</sub> is","seen to first stay roughly a constant, increasing only slightly as <i>V</i><sub>G</sub> increases. At <i>V</i><sub>G</sub> = 1.6","V, <i>R</i><sub>300K</sub> is seen to drop suddenly. Above <i>V</i><sub>G</sub> = 2.5 V, <i>R</i><sub>300K</sub> was found to increase sharply","as the gate voltage was increased further. Similar behavior was seen in the <i>RRR vs. V</i><sub>G</sub>","plot. Consistent behaviors of <i>RRR</i> vs. gate voltage were found at different locations of"];
const p5ys=[858,875,893,910,928,945,962,980,997,1015,1034,1052,1069,1087,1104,1122];
lines(3708,153,595,0,0,p5,13.5,'page5-body-line',{ys:p5ys});
</script>
</body></html>
